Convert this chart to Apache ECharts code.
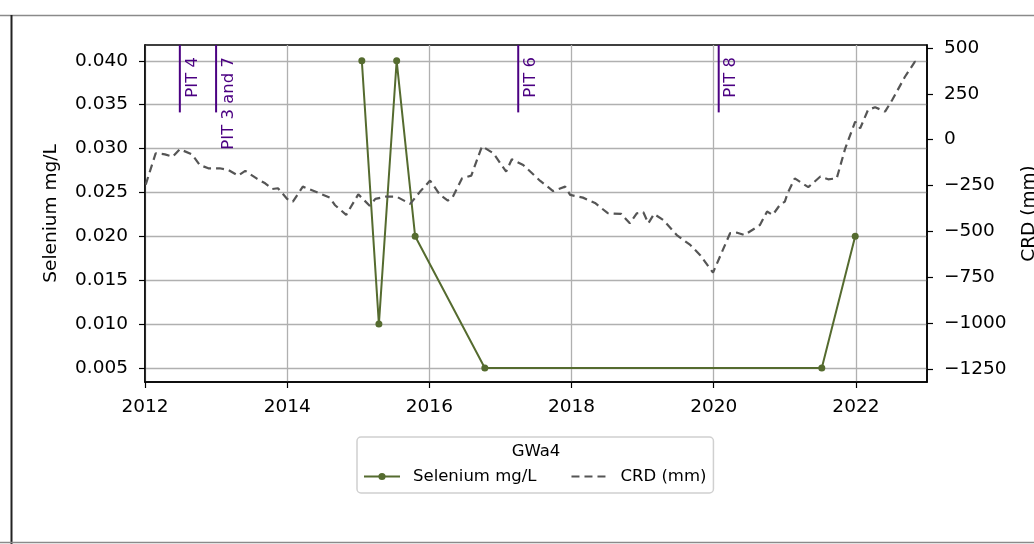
<!DOCTYPE html>
<html><head><meta charset="utf-8">
<script src="https://cdn.jsdelivr.net/npm/echarts@6/dist/echarts.min.js"></script>
<style>html,body{margin:0;padding:0;background:#fff}#c{width:1034px;height:544px}</style>
</head><body><div id="c"></div>
<script>
const xTicks = [2012, 2014, 2016, 2018, 2020, 2022];
const seleniumTicks = [0.005, 0.010, 0.015, 0.020, 0.025, 0.030, 0.035, 0.040];
const crdTicks = [-1250, -1000, -750, -500, -250, 0, 250, 500];

const seleniumDates = [2015.05, 2015.29, 2015.54, 2015.80, 2016.78, 2021.52, 2021.99];
const seleniumValues = [0.040, 0.010, 0.040, 0.020, 0.005, 0.005, 0.020];

const crdDates = [2012.01, 2012.15, 2012.28, 2012.39, 2012.49, 2012.66, 2012.77, 2012.89, 2013.05, 2013.17,
  2013.31, 2013.41, 2013.58, 2013.69, 2013.79, 2013.87, 2014.00, 2014.08, 2014.22, 2014.42,
  2014.60, 2014.67, 2014.83, 2015.00, 2015.16, 2015.24, 2015.38, 2015.54, 2015.73, 2015.87,
  2016.01, 2016.15, 2016.26, 2016.33, 2016.46, 2016.59, 2016.74, 2016.90, 2017.08, 2017.16,
  2017.32, 2017.56, 2017.74, 2017.91, 2017.98, 2018.16, 2018.33, 2018.51, 2018.70, 2018.82,
  2018.92, 2019.01, 2019.08, 2019.16, 2019.29, 2019.48, 2019.67, 2019.81, 2019.99, 2020.23,
  2020.33, 2020.43, 2020.58, 2020.65, 2020.75, 2020.83, 2020.93, 2021.00, 2021.04, 2021.14,
  2021.33, 2021.50, 2021.61, 2021.73, 2021.85, 2021.99, 2022.06, 2022.17, 2022.27, 2022.41,
  2022.51, 2022.69, 2022.83, 2022.87];
const crdValues = [-245, -74, -80, -93, -52, -80, -138, -156, -156, -165,
  -196, -170, -214, -238, -269, -265, -323, -338, -256, -287,
  -316, -356, -410, -298, -360, -323, -311, -311, -350, -283,
  -223, -301, -332, -311, -211, -196, -36, -74, -174, -107,
  -138, -225, -280, -256, -301, -316, -345, -401, -405, -456,
  -401, -396, -456, -405, -438, -520, -574, -630, -725, -510,
  -507, -520, -483, -465, -392, -410, -356, -338, -292, -211,
  -259, -201, -216, -211, -47, 98, 62, 162, 177, 153,
  216, 343, 425, 417];

const pitNames = ['PIT 4', 'PIT 3 and 7', 'PIT 6', 'PIT 8'];
const pitDates = [2012.49, 2013.00, 2017.25, 2020.07];

const FONT = 'DejaVu Sans';
const Y_MIN = 0.0034, Y_MAX = 0.0418, CRD_MIN = -1321, CRD_MAX = 516;
const PIT_COLOR = '#4b0082';

const chart = echarts.init(document.getElementById('c'), null, {renderer: 'canvas'});

const seleniumData = seleniumDates.map((d, i) => [d, seleniumValues[i]]);
const crdData = crdDates.map((d, i) => [d, crdValues[i]]);

const axisFont = {color: '#000', fontSize: 18.5, fontFamily: FONT};

chart.setOption({
  animation: false,
  backgroundColor: '#fff',
  textStyle: {fontFamily: FONT},
  grid: {left: 145, right: 107, top: 45, bottom: 162, show: true, borderColor: '#000', borderWidth: 1.5,
    backgroundColor: 'transparent', containLabel: false, outerBoundsMode: 'none'},
  xAxis: {
    type: 'value', min: 2012, max: 2023,
    axisLine: {show: true, onZero: false, lineStyle: {color: '#000', width: 1.5}},
    axisTick: {show: true, length: 6, lineStyle: {color: '#000', width: 1.2}, customValues: xTicks},
    axisLabel: Object.assign({customValues: xTicks, margin: 16, formatter: v => String(v)}, axisFont),
    splitLine: {show: true, lineStyle: {color: '#b0b0b0', width: 1.3}}
  },
  yAxis: [{
    type: 'value', min: Y_MIN, max: Y_MAX, position: 'left',
    name: 'Selenium mg/L', nameLocation: 'middle', nameGap: 84,
    nameTextStyle: {color: '#000', fontSize: 18.5, fontFamily: FONT},
    axisLine: {show: true, lineStyle: {color: '#000', width: 1.5}},
    axisTick: {show: true, length: 6, lineStyle: {color: '#000', width: 1.2}, customValues: seleniumTicks},
    axisLabel: Object.assign({customValues: seleniumTicks, margin: 17, formatter: v => v.toFixed(3)}, axisFont),
    splitLine: {show: true, lineStyle: {color: '#b0b0b0', width: 1.3}}
  }, {
    type: 'value', min: CRD_MIN, max: CRD_MAX, position: 'right',
    name: 'CRD (mm)', nameLocation: 'middle', nameGap: 93,
    nameTextStyle: {color: '#000', fontSize: 18.5, fontFamily: FONT},
    axisLine: {show: true, lineStyle: {color: '#000', width: 1.5}},
    axisTick: {show: true, length: 6, lineStyle: {color: '#000', width: 1.2}, customValues: crdTicks},
    axisLabel: Object.assign({customValues: crdTicks, margin: 17, formatter: v => String(v).replace('-', '\u2212')}, axisFont),
    splitLine: {show: false}
  }],
  legend: {
    left: 357, top: 437,
    padding: [31, 7, 8, 6],
    backgroundColor: '#fff', borderColor: '#d0d0d0', borderWidth: 1.5, borderRadius: 4,
    itemWidth: 36, itemHeight: 9, itemGap: 34,
    textStyle: {color: '#000', fontSize: 16.5, fontFamily: FONT, padding: [0, 0, 0, 8]},
    data: [{name: 'Selenium mg/L'}, {name: 'CRD (mm)', itemStyle: {opacity: 0}}]
  },
  series: [{
    name: 'Selenium mg/L', type: 'line', yAxisIndex: 0, data: seleniumData,
    color: '#556b2f', lineStyle: {color: '#556b2f', width: 2},
    symbol: 'circle', symbolSize: 7, showSymbol: true, itemStyle: {color: '#556b2f'}, z: 3
  }, {
    name: 'CRD (mm)', type: 'line', yAxisIndex: 1, data: crdData,
    color: '#555555', lineStyle: {color: '#555555', width: 2.2, type: [8, 5]},
    symbol: 'none', showSymbol: false, z: 4
  }]
});

function buildGraphics() {
  const g = [];
  g.push({type: 'line', shape: {x1: 0, y1: 15.5, x2: 1034, y2: 15.5}, style: {stroke: '#8a8a8a', lineWidth: 1.5}, silent: true});
  g.push({type: 'line', shape: {x1: 11.5, y1: 15, x2: 11.5, y2: 544}, style: {stroke: '#222', lineWidth: 2}, silent: true});
  g.push({type: 'line', shape: {x1: 0, y1: 542.5, x2: 1034, y2: 542.5}, style: {stroke: '#8a8a8a', lineWidth: 1.5}, silent: true});
  const yBot = chart.convertToPixel({yAxisIndex: 0}, Y_MIN + 0.8 * (Y_MAX - Y_MIN));
  const yTop = chart.convertToPixel({yAxisIndex: 0}, Y_MAX);
  pitDates.forEach((d, i) => {
    const x = chart.convertToPixel({xAxisIndex: 0}, d);
    g.push({type: 'line', shape: {x1: x, y1: yTop, x2: x, y2: yBot}, style: {stroke: PIT_COLOR, lineWidth: 2}, z: 10, silent: true});
    g.push({type: 'text', x: x + 4, y: yTop + 12, rotation: Math.PI / 2,
      style: {text: pitNames[i], fill: PIT_COLOR, font: '16.5px "DejaVu Sans"', align: 'right', verticalAlign: 'top'}, z: 10, silent: true});
  });
  g.push({type: 'text', x: 536, y: 452, style: {text: 'GWa4', fill: '#000', font: '16.5px "DejaVu Sans"', align: 'center', verticalAlign: 'middle'}, z: 20, silent: true});
  return g;
}
chart.setOption({graphic: buildGraphics()});
</script>
</body></html>
